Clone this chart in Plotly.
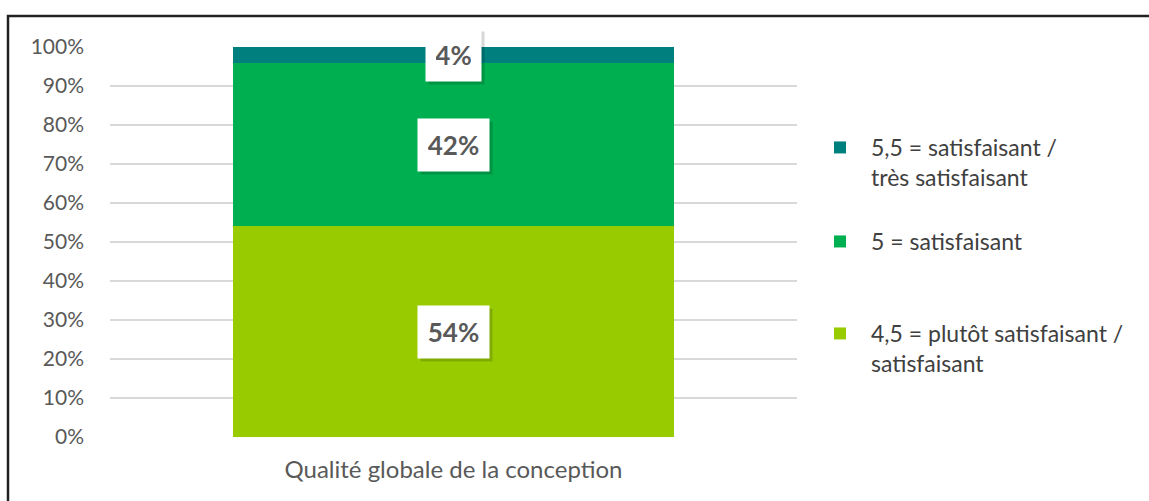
import plotly.graph_objects as go
import numpy as np

categories = ["Qualité globale de la conception"]
series_names = [
    "4,5 = plutôt satisfaisant /<br>satisfaisant",
    "5 = satisfaisant",
    "5,5 = satisfaisant /<br>très satisfaisant",
]
series_values = [[0.54], [0.42], [0.04]]
series_colors = ["#99CC00", "#00B050", "#007F7F"]
tick_vals = [0, 0.1, 0.2, 0.3, 0.4, 0.5, 0.6, 0.7, 0.8, 0.9, 1.0]
tick_text = ["0%", "10%", "20%", "30%", "40%", "50%", "60%", "70%", "80%", "90%", "100%"]

W, H = 1149, 501
L, R, T, B = 110, 352, 47, 64
pw, ph = W - L - R, H - T - B

def px_x(x):
    return (x - L) / pw

def px_y(y):
    return (H - B - y) / ph

fig = go.Figure()
legend_names = ["legend3", "legend2", "legend"]
for name, vals, col, lg in zip(series_names, series_values, series_colors, legend_names):
    fig.add_trace(go.Bar(
        x=categories, y=vals, name=name, marker=dict(color=col, line=dict(width=0)),
        width=0.642, legend=lg, hoverinfo="skip",
    ))

# data labels (white boxes with a soft shadow)
cum = np.zeros(len(categories))
for vals in series_values:
    v = np.array(vals)
    mids = cum + v / 2
    cum = cum + v
    for c, m, val in zip(categories, mids, v):
        txt = f"{round(val*100)}%"
        bw = 16 * len(txt) + 3
        fig.add_annotation(x=c, y=m, text=" ", showarrow=False, xshift=3, yshift=-3,
                           width=bw, height=32,
                           font=dict(family="Lato", size=26, color="rgba(0,0,0,0)"),
                           bgcolor="rgba(0,0,0,0.16)", borderpad=10)
        fig.add_annotation(x=c, y=m, text=f"<b>{txt}</b>", showarrow=False,
                           width=bw, height=32,
                           font=dict(family="Lato", size=26, color="#595959"),
                           bgcolor="white", borderpad=10)

legend_font = dict(family="Lato", size=23, color="#404040")
common = dict(font=legend_font, bgcolor="rgba(0,0,0,0)", xanchor="left", yanchor="top",
              itemsizing="constant", itemwidth=52, valign="top")

fig.update_layout(
    width=W, height=H,
    margin=dict(l=L, r=R, t=T, b=B),
    barmode="stack",
    plot_bgcolor="white", paper_bgcolor="white",
    showlegend=True,
    legend=dict(x=px_x(809), y=px_y(126), **common),
    legend2=dict(x=px_x(809), y=px_y(220), **common),
    legend3=dict(x=px_x(809), y=px_y(312), **common),
    xaxis=dict(showgrid=False, showline=False, ticks="", ticklabelstandoff=16,
               tickfont=dict(family="Lato", size=24, color="#595959")),
    yaxis=dict(range=[0, 1.0], tickvals=tick_vals, ticktext=tick_text,
               showgrid=True, gridcolor="#D9D9D9", gridwidth=1.5, zeroline=False,
               showline=False, ticks="", ticklabelstandoff=25,
               tickfont=dict(family="Lato", size=21, color="#595959")),
)

fig.add_shape(type="rect", xref="paper", yref="paper",
              x0=px_x(8), x1=px_x(1160), y0=px_y(16), y1=px_y(520),
              line=dict(color="#222222", width=2.5), fillcolor="rgba(0,0,0,0)", layer="below")

fig.write_html("out.html", config={"displayModeBar": False},
               post_script="document.body.style.margin='0';document.body.style.padding='0';")
